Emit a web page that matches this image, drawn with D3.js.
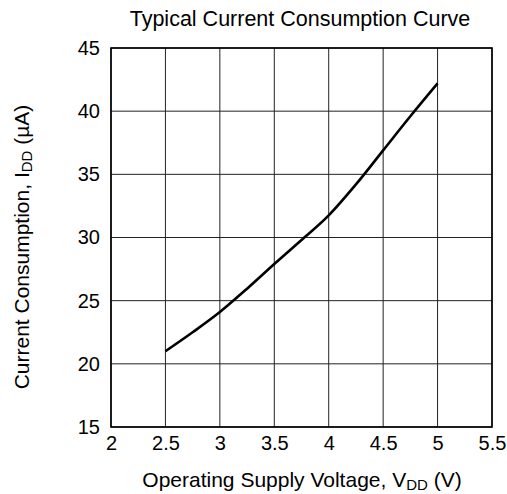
<!DOCTYPE html>
<html>
<head>
<meta charset="utf-8">
<script src="https://cdn.jsdelivr.net/npm/d3@7"></script>
<style>
  body { margin: 0; background: #fff; }
  text { font-family: "Liberation Sans", Arial, sans-serif; fill: #000; }
</style>
</head>
<body>
<script>
// supply voltage (V) and current consumption (uA)
const voltage = [2.5, 2.75, 3, 3.25, 3.5, 3.75, 4, 4.25, 4.5, 4.75, 5]
const current = [21.0, 22.5, 24.1, 25.95, 27.9, 29.8, 31.75, 34.2, 36.9, 39.6, 42.2]
const xTicks = [2, 2.5, 3, 3.5, 4, 4.5, 5, 5.5]
const yTicks = [15, 20, 25, 30, 35, 40, 45]

const w = 507
const h = 494
// plot area edges
const pL = 111, pR = 492, pT = 48, pB = 427

const svg = d3.select('body')
    .append('svg')
    .attr('width', w)
    .attr('height', h)

const xScale = d3.scaleLinear().domain([2, 5.5]).range([pL, pR])
const yScale = d3.scaleLinear().domain([15, 45]).range([pB, pT])

// grid lines
svg.append('g')
    .selectAll('line')
    .data(xTicks)
    .enter()
    .append('line')
    .attr('x1', d => xScale(d)).attr('x2', d => xScale(d))
    .attr('y1', pT).attr('y2', pB)
    .style('stroke', '#222').style('stroke-width', 1)

svg.append('g')
    .selectAll('line')
    .data(yTicks)
    .enter()
    .append('line')
    .attr('y1', d => yScale(d)).attr('y2', d => yScale(d))
    .attr('x1', pL).attr('x2', pR)
    .style('stroke', '#222').style('stroke-width', 1)

// frame
svg.append('rect')
    .attr('x', pL).attr('y', pT)
    .attr('width', pR - pL).attr('height', pB - pT)
    .style('fill', 'none').style('stroke', '#000').style('stroke-width', 1.6)

// axes (labels only, no tick marks)
const xAxis = d3.axisBottom(xScale).tickValues(xTicks).tickFormat(d => String(d))
    .tickSize(0).tickPadding(9)
svg.append('g')
    .attr('transform', `translate(0,${pB})`)
    .call(xAxis)
    .call(g => g.select('.domain').remove())
    .selectAll('text')
    .style('font-size', '20px')
    .style('font-family', '"Liberation Sans", Arial, sans-serif')

const yAxis = d3.axisLeft(yScale).tickValues(yTicks).tickFormat(d => String(d))
    .tickSize(0).tickPadding(11)
svg.append('g')
    .attr('transform', `translate(${pL},0)`)
    .call(yAxis)
    .call(g => g.select('.domain').remove())
    .selectAll('text')
    .style('font-size', '20px')
    .style('font-family', '"Liberation Sans", Arial, sans-serif')

// the curve
const line = d3.line()
    .x((d, i) => xScale(voltage[i]))
    .y(d => yScale(d))
    .curve(d3.curveMonotoneX)

svg.append('path')
    .datum(current)
    .attr('d', line)
    .style('fill', 'none')
    .style('stroke', '#000')
    .style('stroke-width', 2.6)

// title
svg.append('text')
    .attr('x', 300)
    .attr('y', 26)
    .attr('text-anchor', 'middle')
    .style('font-size', '21.5px')
    .text('Typical Current Consumption Curve')

// x label
const xl = svg.append('text')
    .attr('x', 302)
    .attr('y', 487)
    .attr('text-anchor', 'middle')
    .style('font-size', '21px')
xl.append('tspan').text('Operating Supply Voltage, V')
xl.append('tspan').attr('dy', 3).style('font-size', '15px').text('DD')
xl.append('tspan').attr('dy', -3).text(' (V)')

// y label
const yl = svg.append('text')
    .attr('transform', 'translate(29,247) rotate(-90)')
    .attr('text-anchor', 'middle')
    .style('font-size', '21px')
yl.append('tspan').text('Current Consumption, I')
yl.append('tspan').attr('dy', 3).style('font-size', '15px').text('DD')
yl.append('tspan').attr('dy', -3).text(' (µA)')
</script>
</body>
</html>
